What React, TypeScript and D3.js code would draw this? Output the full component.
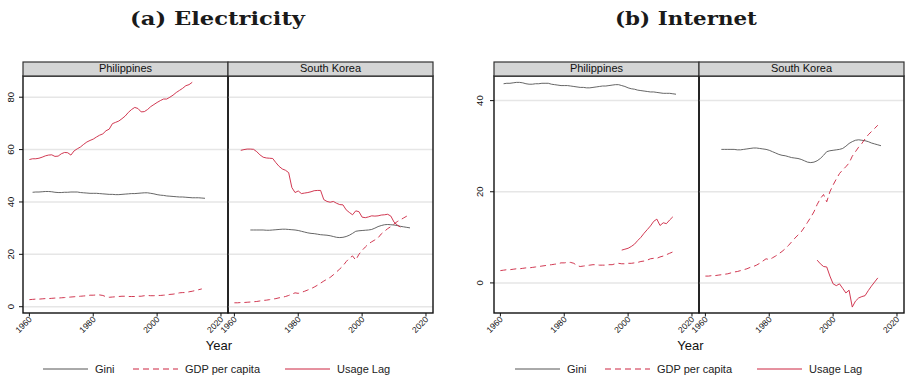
import React from 'react';
import * as d3 from 'd3';

const W = 907;
const H = 381;

const COUNTRIES = ['Philippines', 'South Korea'];
const SERIES = ['Gini', 'GDP per capita', 'Usage Lag'];
const X_TICKS = [1960, 1980, 2000, 2020];
const Y_TICKS_ELEC = [0, 20, 40, 60, 80];
const Y_TICKS_NET = [0, 20, 40];

// yearly values, each list starts at the year given next to it
const PH_GINI_START = 1961;
const phGini = [43.7, 43.8, 43.8, 43.9, 44.0, 44.0, 43.9, 43.7, 43.6, 43.6, 43.7, 43.7, 43.8, 43.8, 43.8,
  43.6, 43.5, 43.4, 43.3, 43.3, 43.3, 43.2, 43.1, 43.0, 42.9, 42.9, 42.8, 42.8, 42.9, 43.0, 43.1, 43.2,
  43.2, 43.3, 43.4, 43.5, 43.5, 43.3, 43.1, 42.8, 42.6, 42.5, 42.3, 42.2, 42.1, 42.0, 41.9, 41.9, 41.8,
  41.7, 41.6, 41.6, 41.6, 41.5, 41.4];

const PH_GDP_START = 1960;
const phGdp = [2.7, 2.8, 2.9, 2.9, 3.0, 3.1, 3.1, 3.2, 3.3, 3.3, 3.4, 3.5, 3.6, 3.7, 3.8, 3.9, 4.0, 4.1,
  4.2, 4.4, 4.4, 4.5, 4.5, 4.3, 3.8, 3.6, 3.7, 3.8, 3.9, 4.0, 4.0, 3.9, 3.9, 3.9, 4.0, 4.0, 4.2, 4.3, 4.2,
  4.2, 4.3, 4.3, 4.4, 4.5, 4.7, 4.8, 5.0, 5.3, 5.4, 5.4, 5.7, 5.9, 6.2, 6.5, 6.8];

const KR_GINI_START = 1965;
const krGini = [29.3, 29.3, 29.3, 29.3, 29.3, 29.2, 29.2, 29.3, 29.4, 29.5, 29.6, 29.6, 29.5, 29.4, 29.3,
  29.1, 28.8, 28.5, 28.2, 28.0, 27.9, 27.7, 27.5, 27.4, 27.3, 27.1, 26.8, 26.5, 26.4, 26.5, 26.8, 27.3,
  28.0, 28.8, 29.0, 29.1, 29.2, 29.3, 29.5, 30.0, 30.6, 31.0, 31.3, 31.4, 31.3, 31.2, 31.0, 30.7, 30.5,
  30.3, 30.1];

const KR_GDP_START = 1960;
const krGdp = [1.5, 1.5, 1.6, 1.6, 1.7, 1.8, 1.9, 2.0, 2.2, 2.4, 2.5, 2.7, 2.9, 3.1, 3.4, 3.6, 3.9, 4.3,
  4.8, 5.3, 5.1, 5.5, 5.9, 6.4, 6.9, 7.5, 8.2, 9.0, 9.8, 10.5, 11.2, 12.2, 13.3, 14.4, 15.6, 17.2, 18.5,
  19.4, 17.8, 20.0, 21.5, 22.8, 24.0, 24.8, 25.5, 26.3, 27.8, 28.8, 29.8, 30.6, 31.6, 32.5, 33.2, 33.9, 34.6];

// usage lag, electricity
const PH_ELEC_START = 1960;
const phElecLag = [56.2, 56.5, 56.5, 56.7, 57.1, 57.6, 57.9, 58.0, 57.4, 57.5, 58.4, 58.9, 58.8, 57.9,
  59.5, 60.3, 61.0, 62.0, 62.9, 63.5, 64.0, 64.8, 65.5, 66.0, 67.2, 67.8, 69.9, 70.4, 70.9, 71.8, 72.8,
  74.2, 75.3, 76.1, 75.7, 74.4, 74.5, 75.3, 76.4, 77.2, 78.0, 78.7, 79.3, 79.3, 80.0, 80.8, 81.8, 82.6,
  83.4, 84.4, 84.8, 85.7];

const KR_ELEC_START = 1962;
const krElecLag = [59.7, 60.0, 60.2, 60.2, 60.1, 59.2, 58.0, 57.1, 56.8, 56.7, 56.6, 55.0, 53.6, 52.6,
  52.1, 51.2, 45.5, 43.6, 44.2, 43.2, 43.4, 43.6, 43.9, 44.3, 44.4, 44.4, 40.9, 40.2, 39.9, 40.2, 39.5,
  39.0, 38.9, 37.0, 36.0, 35.1, 36.6, 36.3, 34.2, 34.0, 34.3, 34.7, 34.6, 34.7, 35.0, 35.1, 35.3, 34.6,
  32.3, 31.2, 30.4];

// usage lag, internet
const PH_NET_START = 1998;
const phNetLag = [7.2, 7.4, 7.6, 8.0, 8.5, 9.3, 10.0, 10.9, 11.7, 12.5, 13.5, 14.0, 12.6, 13.2, 13.0, 13.8, 14.5];

const KR_NET_START = 1995;
const krNetLag = [5.0, 4.2, 3.6, 3.5, 1.5, -0.2, -0.6, -0.2, -1.2, -2.2, -1.6, -5.3, -4.0, -3.3, -3.0,
  -2.8, -1.7, -0.7, 0.2, 1.1];

type Pt = { year: number; value: number };
const toPts = (start: number, vals: number[]): Pt[] => vals.map((v, i) => ({ year: start + i, value: v }));

const GRAY = '#555555';
const RED = '#cc2440';
const SANS = 'Liberation Sans, Arial, sans-serif';

const charts = [
  {
    title: '(a) Electricity',
    titleX: 217.5,
    titleW: 175,
    left: 23,
    yDomain: [-2.4, 88.1],
    yTicks: Y_TICKS_ELEC,
    labelX: 14,
    yearX: 219,
    legendX: 43,
    lag: [toPts(PH_ELEC_START, phElecLag), toPts(KR_ELEC_START, krElecLag)],
  },
  {
    title: '(b) Internet',
    titleX: 686,
    titleW: 142,
    left: 494,
    yDomain: [-6.6, 45.4],
    yTicks: Y_TICKS_NET,
    labelX: 482.5,
    yearX: 690.5,
    legendX: 515,
    lag: [toPts(PH_NET_START, phNetLag), toPts(KR_NET_START, krNetLag)],
  },
];

const gini = [toPts(PH_GINI_START, phGini), toPts(KR_GINI_START, krGini)];
const gdp = [toPts(PH_GDP_START, phGdp), toPts(KR_GDP_START, krGdp)];

const PANEL_W = 205;
const STRIP_TOP = 62;
const PLOT_TOP = 76;
const PLOT_BOTTOM = 313;

function Chart({ cfg }: { cfg: typeof charts[number] }) {
  const y = d3.scaleLinear().domain(cfg.yDomain).range([PLOT_BOTTOM, PLOT_TOP]);

  return (
    <g>
      <text x={cfg.titleX} y={25} textAnchor="middle" fontFamily="DejaVu Serif, serif" fontWeight="bold"
        fontSize={19} textLength={cfg.titleW} lengthAdjust="spacingAndGlyphs" fill="#1a1a1a">
        {cfg.title}
      </text>

      {COUNTRIES.map((c, ci) => {
        const x0 = cfg.left + ci * PANEL_W;
        const x = d3.scaleLinear().domain([1958, 2022.2]).range([x0, x0 + PANEL_W]);
        const line = d3.line<Pt>().x(d => x(d.year)).y(d => y(d.value));
        return (
          <g key={c}>
            {cfg.yTicks.map(t => (
              <line key={t} x1={x0} x2={x0 + PANEL_W} y1={y(t)} y2={y(t)} stroke="#e6e6e6" strokeWidth={1.5} />
            ))}
            <path d={line(gini[ci]) || ''} fill="none" stroke={GRAY} strokeWidth={0.9} />
            <path d={line(gdp[ci]) || ''} fill="none" stroke={RED} strokeWidth={0.9} strokeDasharray="6 4" />
            <path d={line(cfg.lag[ci]) || ''} fill="none" stroke={RED} strokeWidth={0.9} />
            <rect x={x0} y={PLOT_TOP} width={PANEL_W} height={PLOT_BOTTOM - PLOT_TOP} fill="none" stroke="#111" strokeWidth={1.4} />
            <rect x={x0} y={STRIP_TOP} width={PANEL_W} height={PLOT_TOP - STRIP_TOP} fill="#d4d5d5" stroke="#333" strokeWidth={1.2} />
            <text x={x0 + PANEL_W / 2} y={71.5} textAnchor="middle" fontFamily={SANS} fontSize={11} fill="#111">{c}</text>
            {X_TICKS.map(t => (
              <g key={t}>
                <line x1={x(t)} x2={x(t)} y1={PLOT_BOTTOM} y2={PLOT_BOTTOM + 3.5} stroke="#111" strokeWidth={1} />
                <text transform={`translate(${x(t) + 3},${PLOT_BOTTOM + 7}) rotate(-45)`} textAnchor="end"
                  fontFamily={SANS} fontSize={8.5} fill="#111">{t}</text>
              </g>
            ))}
          </g>
        );
      })}

      {cfg.yTicks.map(t => (
        <g key={t}>
          <line x1={cfg.left - 4} x2={cfg.left} y1={y(t)} y2={y(t)} stroke="#111" strokeWidth={1} />
          <text transform={`translate(${cfg.labelX},${y(t)}) rotate(-90)`} textAnchor="middle"
            fontFamily={SANS} fontSize={9.5} fill="#111">{t}</text>
        </g>
      ))}

      <text x={cfg.yearX} y={349.5} textAnchor="middle" fontFamily={SANS} fontSize={13} fill="#111">Year</text>

      {SERIES.map((s, i) => {
        const lx = cfg.legendX + [0, 90, 242][i];
        return (
          <g key={s}>
            <line x1={lx} x2={lx + 45} y1={369} y2={369} stroke={i === 0 ? GRAY : RED} strokeWidth={1}
              strokeDasharray={i === 1 ? '6 4' : undefined} />
            <text x={lx + 52} y={373} fontFamily={SANS} fontSize={11} fill="#222">{s}</text>
          </g>
        );
      })}
    </g>
  );
}

export default function App() {
  return (
    <svg width={W} height={H} style={{ position: 'absolute', left: 0, top: 0, background: '#fff' }}>
      <rect width={W} height={H} fill="#fff" />
      {charts.map(c => <Chart key={c.title} cfg={c} />)}
    </svg>
  );
}
